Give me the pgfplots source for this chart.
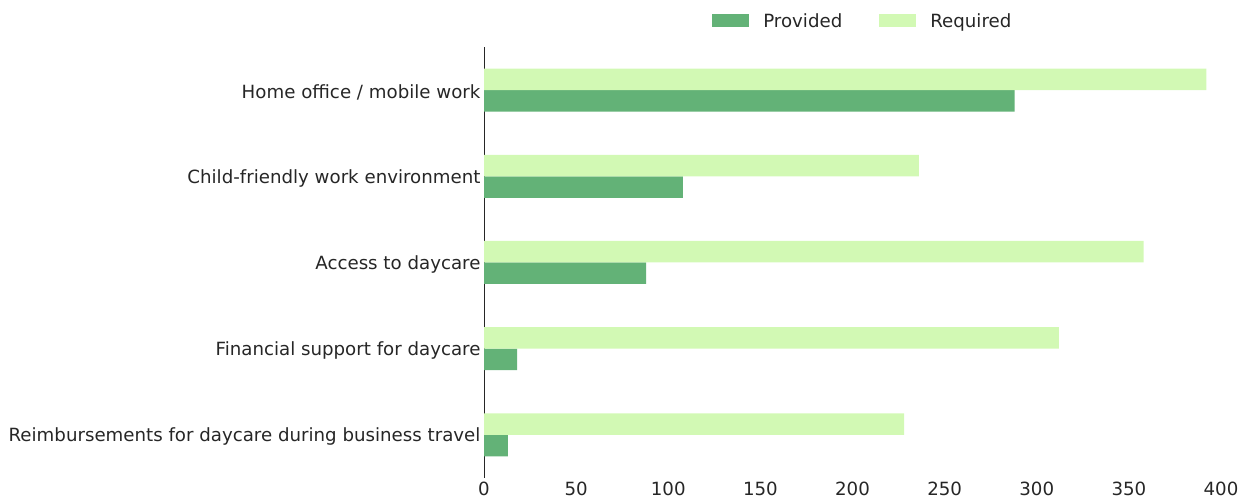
\documentclass[border=0pt]{standalone}
\usepackage{fontspec}
\setmainfont{DejaVu Sans}
\usepackage{pgfplots}
\pgfplotsset{compat=1.18}
\definecolor{provc}{HTML}{63B277}
\definecolor{reqc}{HTML}{D2F9B4}
\definecolor{txt}{HTML}{262626}
\begin{document}
\begin{tikzpicture}[x=1pt,y=1pt]
\useasboundingbox (0,0) rectangle (1250,502);
\begin{axis}[
  at={(484pt,24pt)}, anchor=south west,
  scale only axis, width=737pt, height=431pt,
  xmin=0, xmax=400, ymin=-0.5, ymax=4.5,
  xtick={0,50,...,400},
  ytick={0,1,2,3,4},
  yticklabels={Reimbursements for daycare during business travel,Financial support for daycare,Access to daycare,Child-friendly work environment,Home office / mobile work},
  axis lines=left,
  x axis line style={draw=none},
  y axis line style={-, draw=txt, line width=1pt},
  major tick length=0pt,
  tick style={draw=none},
  font=\fontsize{18.2}{22}\selectfont,
  tick label style={text=txt},
  /pgf/number format/assume math mode=true,
  xticklabel style={yshift=0pt},
  yticklabel style={yshift=-2pt},
  legend style={at={(0.514,1)}, anchor=center, yshift=26pt, draw=none, fill=none,
     legend columns=2,
     /tikz/every odd column/.style={column sep=12pt},
     /tikz/every even column/.style={column sep=35pt},
     text=txt, font=\fontsize{18.2}{22}\selectfont},
  legend cell align=left,
  legend image code/.code={\fill[#1] (0pt,-6.5pt) rectangle (37pt,6.5pt);},
]
\addplot[xbar, bar width=21.5pt, bar shift=-10.75pt, fill=provc, draw=none] coordinates {
 (288,4) (108,3) (88,2) (18,1) (13,0)};
\addlegendentry{Provided}
\addplot[xbar, bar width=21.5pt, bar shift=10.75pt, fill=reqc, draw=none] coordinates {
 (392,4) (236,3) (358,2) (312,1) (228,0)};
\addlegendentry{Required}
\end{axis}
\end{tikzpicture}
\end{document}
